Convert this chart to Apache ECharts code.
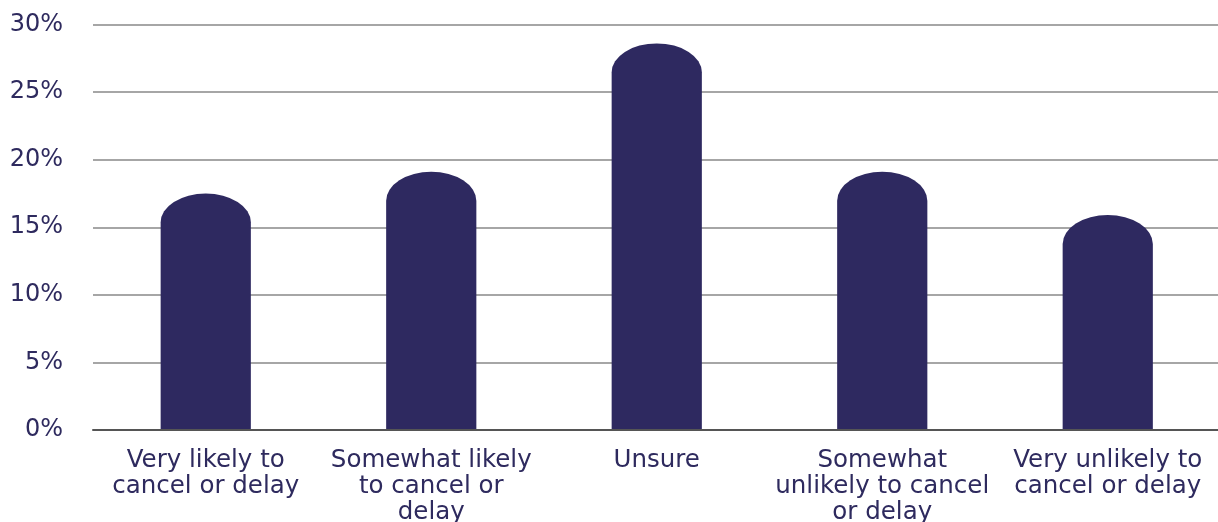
<!DOCTYPE html>
<html>
<head>
<meta charset="utf-8">
<script src="https://cdn.jsdelivr.net/npm/echarts@6/dist/echarts.min.js"></script>
<style>
  html, body { margin: 0; padding: 0; background: #fff; overflow: hidden; }
  #chart { width: 1218px; height: 522px; }
</style>
</head>
<body>
<div id="chart"></div>
<script>
const categories = [
  "Very likely to\ncancel or delay",
  "Somewhat likely\nto cancel or\ndelay",
  "Unsure",
  "Somewhat\nunlikely to cancel\nor delay",
  "Very unlikely to\ncancel or delay"
];
const values = [17.5, 19.1, 28.6, 19.1, 15.9];
const yTicks = [0, 5, 10, 15, 20, 25, 30];

const barColor = '#2e2960';
const textColor = '#2e2a5e';
const fontFamily = '"DejaVu Sans", sans-serif';

const chart = echarts.init(document.getElementById('chart'), null, { renderer: 'canvas', width: 1218, height: 522 });

chart.setOption({
  animation: false,
  backgroundColor: '#ffffff',
  grid: { left: 93, right: -2.5, top: 24.5, height: 405.5, containLabel: false, outerBoundsMode: 'none' },
  xAxis: {
    type: 'category',
    data: categories,
    axisTick: { show: false },
    axisLine: { show: true, lineStyle: { color: '#555555', width: 2 } },
    axisLabel: {
      interval: 0,
      color: textColor,
      fontFamily: fontFamily,
      fontSize: 24.5,
      lineHeight: 26,
      margin: 18,
      align: 'center'
    },
    splitLine: { show: false }
  },
  yAxis: {
    type: 'value',
    min: yTicks[0],
    max: yTicks[yTicks.length - 1],
    interval: 5,
    axisLine: { show: false },
    axisTick: { show: false },
    axisLabel: {
      color: textColor,
      fontFamily: fontFamily,
      fontSize: 24,
      margin: 30,
      formatter: v => v + '%'
    },
    splitLine: { show: true, lineStyle: { color: '#a6a6a6', width: 2 } }
  },
  series: [{
    type: 'custom',
    data: values.map((v, i) => [i, v]),
    encode: { x: 0, y: 1 },
    renderItem: function (params, api) {
      const idx = api.value(0);
      const v = api.value(1);
      const top = api.coord([idx, v]);
      const base = api.coord([idx, 0]);
      const bw = api.size([1, 0])[0] * 0.4;
      const rx = bw / 2;
      const ry = rx * 0.64;
      const x0 = top[0] - rx, x1 = top[0] + rx;
      const yb = base[1] - 1;
      const yc = top[1] + ry;
      return {
        type: 'path',
        shape: {
          pathData: 'M' + x0 + ' ' + yb + ' L' + x0 + ' ' + yc +
            ' A' + rx + ' ' + ry + ' 0 0 1 ' + x1 + ' ' + yc +
            ' L' + x1 + ' ' + yb + ' Z'
        },
        style: { fill: barColor }
      };
    }
  }]
});
</script>
</body>
</html>
